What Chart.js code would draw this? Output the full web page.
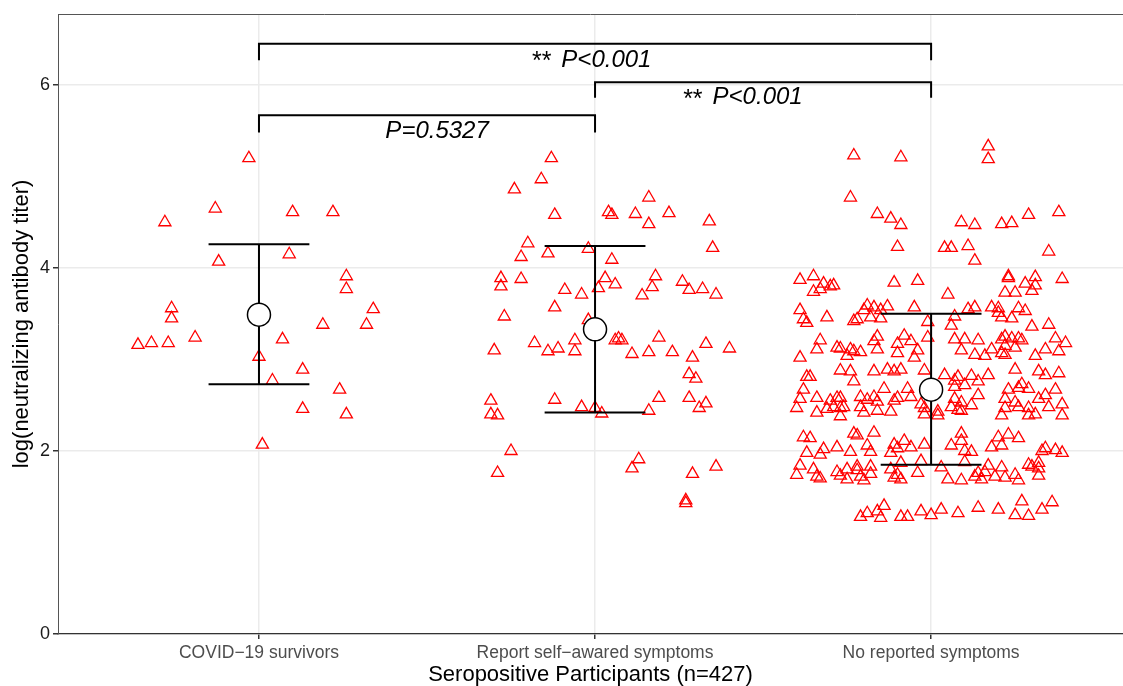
<!DOCTYPE html>
<html>
<head>
<meta charset="utf-8">
<script src="https://cdn.jsdelivr.net/npm/chart.js@4/dist/chart.umd.min.js"></script>
<style>
  body { margin: 0; background: #fff; }
  canvas { display: block; }
</style>
</head>
<body>
<canvas id="chart" width="1123" height="686"></canvas>
<script>
// categories on the x axis
const groups = ['COVID\u221219 survivors', 'Report self\u2212awared symptoms', 'No reported symptoms'];
const yTicks = [0, 2, 4, 6];

// jitter offset (from category centre) and value of every participant
const covidDx = [-0.03,-0.13,-0.28,0.10,0.22,0.09,-0.12,0.26,0.26,-0.26,-0.26,0.34,0.19,0.32,-0.36,-0.32,-0.27,-0.19,0.07,0.00,0.13,0.04,0.24,0.13,0.26,0.01];
const covidY = [5.20,4.65,4.50,4.61,4.61,4.15,4.07,3.91,3.77,3.56,3.45,3.55,3.38,3.38,3.16,3.18,3.18,3.24,3.22,3.03,2.89,2.77,2.67,2.46,2.40,2.07];

const reportDx = [-0.13,-0.16,-0.24,0.16,0.04,0.05,0.12,0.22,-0.12,0.16,0.34,-0.20,-0.22,-0.14,-0.02,0.05,0.35,-0.28,-0.28,-0.22,0.03,0.06,0.01,-0.09,-0.04,0.18,0.17,0.14,0.26,0.28,0.32,0.36,-0.12,-0.27,-0.02,
  -0.30,-0.18,-0.14,-0.11,-0.06,-0.06,0.06,0.07,0.08,0.19,0.11,0.16,0.23,0.29,0.33,0.40,0.28,0.30,
  -0.31,-0.31,-0.29,-0.12,-0.04,0.00,0.02,0.16,0.19,0.28,0.31,0.33,-0.25,-0.29,0.13,0.11,0.29,0.36,0.27,0.27];
const reportY = [5.20,4.97,4.86,4.77,4.61,4.58,4.59,4.60,4.58,4.48,4.51,4.27,4.12,4.16,4.21,4.09,4.22,3.89,3.80,3.88,3.89,3.82,3.78,3.76,3.71,3.91,3.79,3.70,3.85,3.76,3.77,3.71,3.57,3.47,3.43,
  3.10,3.18,3.09,3.12,3.21,3.09,3.21,3.23,3.21,3.24,3.06,3.08,3.08,3.02,3.17,3.12,2.84,2.79,
  2.55,2.40,2.39,2.56,2.48,2.47,2.41,2.44,2.58,2.58,2.47,2.52,2.00,1.76,1.91,1.81,1.75,1.83,1.46,1.43];

const noneDx = [
  -0.23,-0.09,0.17,0.17,-0.24,-0.16,-0.12,-0.09,-0.10,0.09,0.13,0.21,0.24,0.29,0.38,0.04,0.06,0.11,0.13,0.35,
  -0.39,-0.35,-0.32,-0.35,-0.33,-0.30,-0.29,-0.11,-0.04,0.05,0.23,0.23,0.22,0.25,0.28,0.31,0.31,0.30,0.39,
  -0.39,-0.38,-0.37,-0.31,-0.23,-0.22,-0.19,-0.20,-0.17,-0.15,-0.13,-0.18,-0.15,-0.05,-0.01,0.07,0.06,0.11,0.13,0.18,0.20,0.20,0.21,0.24,0.26,0.28,0.30,0.35,
  -0.33,-0.34,-0.39,-0.28,-0.27,-0.24,-0.23,-0.21,-0.25,-0.16,-0.17,-0.16,-0.08,-0.10,-0.10,-0.06,-0.04,-0.05,-0.01,0.07,0.10,0.09,0.14,0.13,0.16,0.18,0.21,0.22,0.24,0.26,0.27,0.22,0.25,0.21,0.22,0.31,0.34,0.37,0.40,0.38,
  -0.27,-0.24,-0.17,-0.13,-0.11,-0.09,-0.02,0.04,0.08,0.12,0.17,0.25,0.32,0.34,0.38,-0.37,-0.36,
  -0.23,0.14,0.07,-0.38,-0.39,-0.40,-0.34,-0.34,-0.31,-0.30,-0.29,-0.28,-0.27,-0.27,-0.26,-0.27,-0.21,-0.21,-0.20,-0.19,-0.17,-0.16,-0.14,-0.16,-0.12,-0.11,-0.10,-0.07,-0.06,-0.03,-0.02,-0.02,0.02,0.02,0.06,0.07,0.09,0.08,0.09,0.12,0.14,0.07,0.10,0.22,0.23,0.22,0.21,0.25,0.26,0.26,0.29,0.29,0.29,0.31,0.32,0.34,0.35,0.37,0.39,0.39,0.27,
  -0.38,-0.36,-0.37,-0.33,-0.32,-0.28,-0.24,-0.23,-0.22,-0.17,-0.19,-0.18,-0.12,-0.11,-0.10,-0.08,-0.06,-0.02,0.06,0.09,0.09,0.10,0.12,0.18,0.20,0.23,0.26,0.21,0.33,0.37,0.39,0.34,
  -0.39,-0.40,-0.35,-0.34,-0.33,-0.28,-0.27,-0.25,-0.25,-0.22,-0.22,-0.21,-0.20,-0.18,-0.18,-0.12,-0.11,-0.10,-0.09,-0.09,-0.04,-0.03,0.03,0.05,0.09,0.10,0.13,0.14,0.15,0.16,0.17,0.19,0.21,0.22,0.25,0.26,0.29,0.30,0.32,0.32,0.32,
  -0.21,-0.19,-0.16,-0.15,-0.14,-0.09,-0.07,-0.03,0.00,0.03,0.08,0.14,0.20,0.25,0.27,0.29,0.33,0.36];
const noneY = [
  5.23,5.21,5.33,5.19,4.77,4.59,4.54,4.47,4.23,4.50,4.47,4.48,4.49,4.58,4.61,4.22,4.22,4.24,4.08,4.18,
  3.87,3.91,3.83,3.74,3.77,3.80,3.81,3.84,3.86,3.71,3.91,3.89,3.73,3.73,3.83,3.90,3.81,3.75,3.88,
  3.54,3.44,3.40,3.46,3.42,3.44,3.59,3.54,3.57,3.54,3.58,3.46,3.45,3.57,3.41,3.47,3.37,3.55,3.57,3.57,3.56,3.51,3.46,3.45,3.56,3.53,3.36,3.38,
  3.21,3.11,3.02,3.13,3.12,3.11,3.09,3.08,3.04,3.25,3.20,3.11,3.26,3.17,3.07,3.20,3.10,3.02,3.24,3.22,3.22,3.10,3.21,3.05,3.04,3.11,3.22,3.25,3.23,3.23,3.21,3.15,3.13,3.07,3.05,3.04,3.11,3.23,3.18,3.09,
  2.88,2.87,2.87,2.89,2.87,2.89,2.88,2.83,2.81,2.82,2.83,2.89,2.87,2.83,2.85,2.81,2.81,
  2.76,2.76,2.77,2.67,2.57,2.47,2.58,2.42,2.46,2.55,2.48,2.58,2.58,2.47,2.48,2.38,2.59,2.48,2.42,2.56,2.59,2.54,2.68,2.44,2.43,2.55,2.58,2.68,2.59,2.51,2.47,2.40,2.43,2.39,2.48,2.57,2.53,2.45,2.44,2.50,2.61,2.70,2.72,2.57,2.67,2.47,2.39,2.53,2.48,2.69,2.68,2.47,2.39,2.40,2.57,2.61,2.48,2.67,2.51,2.39,2.73,
  2.15,2.14,1.98,1.96,2.02,2.04,1.99,2.19,2.17,2.20,2.06,1.99,1.98,2.07,2.03,2.11,2.04,2.07,2.06,2.11,2.19,2.00,1.99,2.04,2.15,2.18,2.14,2.06,2.00,2.01,1.98,2.03,
  1.84,1.74,1.80,1.72,1.70,1.77,1.73,1.80,1.69,1.79,1.83,1.72,1.68,1.83,1.75,1.80,1.71,1.74,1.69,1.87,1.76,1.89,1.82,1.69,1.68,1.88,1.72,1.76,1.69,1.77,1.84,1.72,1.82,1.71,1.74,1.68,1.85,1.83,1.87,1.81,1.73,
  1.28,1.32,1.34,1.27,1.40,1.28,1.28,1.34,1.30,1.36,1.32,1.38,1.36,1.30,1.45,1.29,1.36,1.44];

// group summaries: mean and error bar ends
const means = [3.49, 3.33, 2.67];
const upper = [4.26, 4.24, 3.50];
const lower = [2.73, 2.42, 1.85];

// pairwise comparisons
const compFrom = [1, 2, 1];
const compTo = [3, 3, 2];
const compStars = ['**', '**', ''];
const compText = ['P<0.001', 'P<0.001', 'P=0.5327'];

// bracket geometry (data units)
const bracketY = [6.45, 6.03, 5.67];
const bracketTip = [6.27, 5.86, 5.48];
const labelX = [1.99, 2.44, 1.53];
const labelY = [6.27, 5.86, 5.49];

function toPoints(base, dx, ys) {
  return dx.map((d, i) => ({ x: base + d, y: ys[i] }));
}

const points = [].concat(
  toPoints(1, covidDx, covidY),
  toPoints(2, reportDx, reportY),
  toPoints(3, noneDx, noneY)
);

const errSegs = [];
means.forEach((m, i) => {
  const g = i + 1;
  errSegs.push({ x: g, y: lower[i] }, { x: g, y: upper[i] }, { x: g, y: null });
  errSegs.push({ x: g - 0.15, y: upper[i] }, { x: g + 0.15, y: upper[i] }, { x: g, y: null });
  errSegs.push({ x: g - 0.15, y: lower[i] }, { x: g + 0.15, y: lower[i] }, { x: g, y: null });
});

const brSegs = [];
compFrom.forEach((a, i) => {
  const b = compTo[i];
  brSegs.push({ x: a, y: bracketTip[i] }, { x: a, y: bracketY[i] }, { x: b, y: bracketY[i] }, { x: b, y: bracketTip[i] }, { x: a, y: null });
});

const compLabels = {
  id: 'compLabels',
  afterDraw(chart) {
    const ctx = chart.ctx;
    const xs = chart.scales.x, ys = chart.scales.y;
    const area = chart.chartArea;
    ctx.save();
    // panel border on top
    ctx.strokeStyle = '#555';
    ctx.lineWidth = 1;
    ctx.beginPath();
    ctx.moveTo(area.left, area.top + 0.5);
    ctx.lineTo(area.right, area.top + 0.5);
    ctx.stroke();

    ctx.fillStyle = '#000';
    ctx.textBaseline = 'middle';
    ctx.textAlign = 'left';
    const normal = '25px "Liberation Sans", Arial, sans-serif';
    const italic = 'italic 24px "Liberation Sans", Arial, sans-serif';
    compText.forEach((t, i) => {
      const stars = compStars[i];
      ctx.font = normal;
      const w1 = stars ? ctx.measureText(stars).width + 10 : 0;
      ctx.font = italic;
      const w2 = ctx.measureText(t).width;
      const x = xs.getPixelForValue(labelX[i]) - (w1 + w2) / 2;
      const y = ys.getPixelForValue(labelY[i]);
      if (stars) {
        ctx.font = normal;
        ctx.fillText(stars, x, y + 2);
      }
      ctx.font = italic;
      ctx.fillText(t, x + w1, y);
    });
    ctx.restore();
  }
};

Chart.defaults.font.family = '"Liberation Sans", Arial, sans-serif';

new Chart(document.getElementById('chart'), {
  type: 'scatter',
  data: {
    datasets: [
      {
        label: 'mean',
        data: means.map((m, i) => ({ x: i + 1, y: m })),
        pointRadius: 11.5,
        pointBackgroundColor: '#fff',
        pointBorderColor: '#000',
        pointBorderWidth: 1.5,
        order: 0
      },
      {
        type: 'line',
        label: 'error',
        data: errSegs,
        borderColor: '#000',
        borderWidth: 2,
        pointRadius: 0,
        spanGaps: false,
        order: 1
      },
      {
        type: 'line',
        label: 'brackets',
        data: brSegs,
        borderColor: '#000',
        borderWidth: 2,
        pointRadius: 0,
        spanGaps: false,
        clip: false,
        order: 1
      },
      {
        label: 'titer',
        data: points,
        pointStyle: 'triangle',
        pointRadius: 7,
        pointBorderColor: '#ff0000',
        pointBackgroundColor: 'rgba(0,0,0,0)',
        pointBorderWidth: 1.3,
        order: 2
      }
    ]
  },
  options: {
    responsive: false,
    animation: false,
    events: [],
    layout: { autoPadding: false, padding: { top: 14, left: 0, right: 0, bottom: 0 } },
    plugins: { legend: { display: false }, tooltip: { enabled: false } },
    scales: {
      x: {
        type: 'linear',
        min: 0.402,
        max: 3.571,
        afterBuildTicks: (axis) => { axis.ticks = [1, 2, 3].map(v => ({ value: v })); },
        afterFit: (axis) => { axis.height = 52; },
        ticks: {
          autoSkip: false,
          maxRotation: 0,
          padding: 4,
          color: '#4d4d4d',
          font: { size: 17.5 },
          callback: (v, i) => groups[i]
        },
        grid: { color: '#ebebeb', lineWidth: 1.5, tickColor: '#333', tickLength: 5 },
        border: { display: true, color: '#333', width: 1.2 },
        title: {
          display: true,
          text: 'Seropositive Participants (n=427)',
          color: '#000',
          font: { size: 22, lineHeight: 1 },
          padding: { top: 0, bottom: 0 }
        }
      },
      y: {
        min: 0,
        max: 6.776,
        afterBuildTicks: (axis) => { axis.ticks = yTicks.map(v => ({ value: v })); },
        afterFit: (axis) => { axis.width = 58; },
        ticks: { padding: 3, color: '#1a1a1a', font: { size: 18 } },
        grid: { color: '#ebebeb', lineWidth: 1.5, tickColor: '#333', tickLength: 5 },
        border: { display: true, color: '#555', width: 1 },
        title: {
          display: true,
          text: 'log(neutralizing antibody titer)',
          color: '#000',
          font: { size: 22, lineHeight: 1 },
          padding: { top: 11, bottom: 0 }
        }
      }
    }
  },
  plugins: [compLabels]
});
</script>
</body>
</html>
